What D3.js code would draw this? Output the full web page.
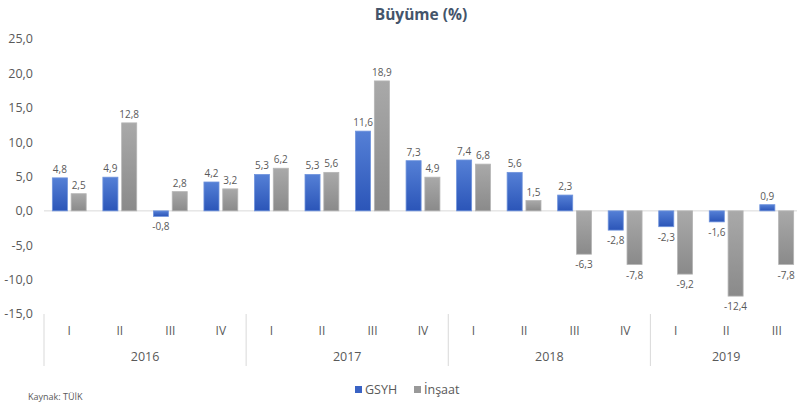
<!DOCTYPE html>
<html>
<head>
<meta charset="utf-8">
<script src="https://cdn.jsdelivr.net/npm/d3@7"></script>
<style>
  body { margin: 0; background: #fff; }
  svg { font-family: "Open Sans", "Liberation Sans", sans-serif; }
</style>
</head>
<body>
<div id="chart"></div>
<script>
const quarters = ["I", "II", "III", "IV", "I", "II", "III", "IV", "I", "II", "III", "IV", "I", "II", "III"];
const years = ["2016", "2016", "2016", "2016", "2017", "2017", "2017", "2017", "2018", "2018", "2018", "2018", "2019", "2019", "2019"];
const seriesNames = ["GSYH", "İnşaat"];
const gsyh = [4.8, 4.9, -0.8, 4.2, 5.3, 5.3, 11.6, 7.3, 7.4, 5.6, 2.3, -2.8, -2.3, -1.6, 0.9];
const insaat = [2.5, 12.8, 2.8, 3.2, 6.2, 5.6, 18.9, 4.9, 6.8, 1.5, -6.3, -7.8, -9.2, -12.4, -7.8];
const yTicks = [25, 20, 15, 10, 5, 0, -5, -10, -15];

const W = 797, H = 403;
const margin = { top: 39, left: 44, bottom: 89 };
const plotRight = 802;

const svg = d3.select("#chart").append("svg")
  .attr("width", W).attr("height", H);

const defs = svg.append("defs");
const gradBlue = defs.append("linearGradient").attr("id", "gBlue").attr("x1", 0).attr("y1", 0).attr("x2", 0).attr("y2", 1);
gradBlue.append("stop").attr("offset", "0%").attr("stop-color", "#5580d6");
gradBlue.append("stop").attr("offset", "100%").attr("stop-color", "#2b55b8");
const gradGray = defs.append("linearGradient").attr("id", "gGray").attr("x1", 0).attr("y1", 0).attr("x2", 0).attr("y2", 1);
gradGray.append("stop").attr("offset", "0%").attr("stop-color", "#a9a9a9");
gradGray.append("stop").attr("offset", "100%").attr("stop-color", "#8a8a8a");

const data = quarters.map(function (q, i) {
  return { id: i, q: q, year: years[i], GSYH: gsyh[i], "İnşaat": insaat[i] };
});

const x0 = d3.scaleBand().domain(data.map(d => d.id)).range([margin.left, plotRight])
  .paddingInner(0.33).paddingOuter(0.165);
const x1 = d3.scaleBand().domain(seriesNames).range([0, x0.bandwidth()]).paddingInner(0.2);
const y = d3.scaleLinear().domain([-15, 25]).range([H - margin.bottom, margin.top]);
const fill = { "GSYH": "url(#gBlue)", "İnşaat": "url(#gGray)" };
const stroke = { "GSYH": "#6f93dc", "İnşaat": "#b5b5b5" };
const fmt = v => d3.format(".1f")(v).replace(".", ",").replace("\u2212", "-");

// title
svg.append("text").attr("x", 421).attr("y", 20).attr("text-anchor", "middle")
  .attr("font-size", 15.5).attr("font-weight", "bold").attr("fill", "#44546a")
  .text("Büyüme (%)");

// y axis labels
svg.append("g").selectAll("text").data(yTicks).enter().append("text")
  .attr("x", 33).attr("y", d => y(d)).attr("dy", "0.35em")
  .attr("text-anchor", "end").attr("font-size", 12.5).attr("fill", "#595959")
  .text(d => fmt(d));

// zero line
svg.append("line").attr("x1", margin.left).attr("x2", plotRight)
  .attr("y1", y(0)).attr("y2", y(0)).attr("stroke", "#d9d9d9").attr("stroke-width", 1);

// bars
const groups = svg.append("g").selectAll("g").data(data).enter().append("g")
  .attr("transform", d => "translate(" + x0(d.id) + ",0)");

groups.selectAll("rect").data(d => seriesNames.map(k => ({ key: k, value: d[k] })))
  .enter().append("rect")
  .attr("x", d => x1(d.key))
  .attr("y", d => y(Math.max(0, d.value)))
  .attr("width", x1.bandwidth())
  .attr("height", d => Math.abs(y(d.value) - y(0)))
  .attr("fill", d => fill[d.key])
  .attr("stroke", d => stroke[d.key]).attr("stroke-width", 0.8);

groups.selectAll("text").data(d => seriesNames.map(k => ({ key: k, value: d[k] })))
  .enter().append("text")
  .attr("x", d => x1(d.key) + x1.bandwidth() / 2)
  .attr("y", d => d.value >= 0 ? y(d.value) - 5 : y(d.value) + 14)
  .attr("text-anchor", "middle").attr("font-size", 10).attr("fill", "#595959")
  .text(d => fmt(d.value));

// category axis: quarters and years
const axisTop = y(-15);
svg.append("g").selectAll("text").data(data).enter().append("text")
  .attr("x", d => x0(d.id) + x0.bandwidth() / 2).attr("y", axisTop + 21)
  .attr("text-anchor", "middle").attr("font-size", 12).attr("fill", "#595959")
  .text(d => d.q);

const yearGroups = d3.groups(data, d => d.year);
const step = x0.step();
const startX = d => x0(d.id) - x0.paddingInner() * step / 2;
svg.append("g").selectAll("text").data(yearGroups).enter().append("text")
  .attr("x", g => (startX(g[1][0]) + startX(g[1][g[1].length - 1]) + step) / 2)
  .attr("y", axisTop + 47)
  .attr("text-anchor", "middle").attr("font-size", 12.5).attr("fill", "#595959")
  .text(g => g[0]);

svg.append("g").selectAll("line").data(yearGroups).enter().append("line")
  .attr("x1", g => startX(g[1][0])).attr("x2", g => startX(g[1][0]))
  .attr("y1", axisTop).attr("y2", axisTop + 52)
  .attr("stroke", "#d9d9d9").attr("stroke-width", 1);

// legend
const legend = svg.append("g").attr("transform", "translate(355,390)");
const legendX = [0, 59];
seriesNames.forEach(function (k, i) {
  legend.append("rect").attr("x", legendX[i]).attr("y", -4).attr("width", 7).attr("height", 7)
    .attr("fill", k === "GSYH" ? "#3a63c4" : "#999999");
  legend.append("text").attr("x", legendX[i] + 10).attr("y", 0).attr("dy", "0.35em")
    .attr("font-size", 12.5).attr("fill", "#595959").text(k);
});

// source note at the bottom edge
svg.append("text").attr("x", 28).attr("y", 400).attr("font-size", 9).attr("fill", "#595959")
  .text("Kaynak: TÜİK");
</script>
</body>
</html>
